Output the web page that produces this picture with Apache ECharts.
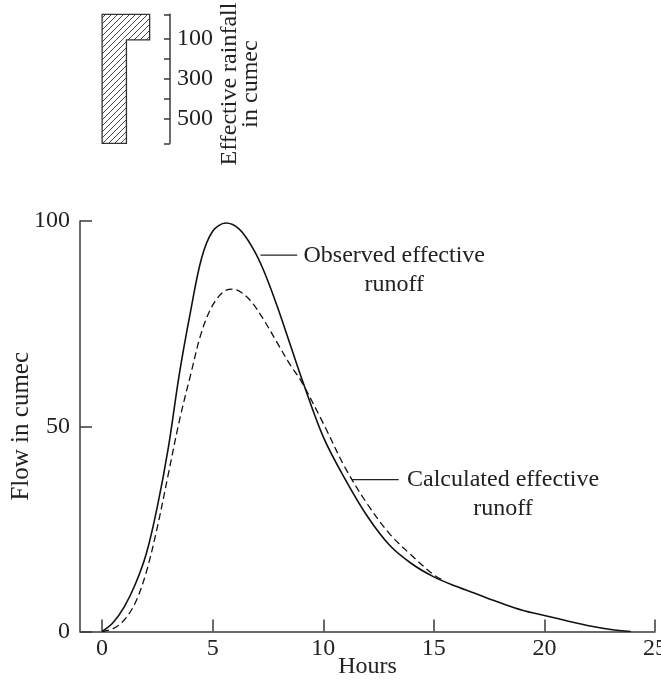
<!DOCTYPE html>
<html>
<head>
<meta charset="utf-8">
<script src="https://cdn.jsdelivr.net/npm/echarts@6/dist/echarts.min.js"></script>
<style>
  html, body { margin: 0; background: #fff; }
  #chart { width: 661px; height: 680px; }
</style>
</head>
<body>
<div id="chart"></div>
<script>
// hours / flow in cumec
const hourTicks = [0, 5, 10, 15, 20, 25];
const flowTicks = [0, 50, 100];

const observedRunoff = [
  [0, 0], [0.5, 2.2], [1, 6], [1.5, 11.5], [2, 19], [2.5, 30.5], [3, 45], [3.5, 63],
  [4, 78], [4.5, 91], [5, 97.5], [5.6, 99.5], [6.2, 98], [6.8, 93.5], [7.3, 88],
  [7.9, 79.5], [8.5, 70], [9, 62], [10, 47.4], [11, 37], [12, 28], [13, 21],
  [14, 16.5], [15, 13.3], [16, 11], [17, 9], [18, 7], [19, 5.2], [20, 3.9],
  [21, 2.6], [22, 1.4], [23, 0.5], [23.9, 0]
];

const calculatedRunoff = [
  [0, 0], [0.5, 0.7], [1, 2.8], [1.5, 7], [2, 14.5], [2.5, 25.5], [3, 38.5], [3.5, 51.5],
  [4, 62.5], [4.5, 73], [5, 79.5], [5.5, 82.8], [5.9, 83.4], [6.3, 82.6], [6.8, 80],
  [7.3, 76], [7.9, 70.5], [8.5, 65], [9, 61], [10, 50.7], [11, 39.8], [12, 31],
  [13, 23.8], [14, 18.5], [15, 13.8], [15.5, 12.3]
];

// effective rainfall block (hyetograph), hanging from the top of its axis
const rainHours = [0, 1.1, 2.15];   // block edges in hours
const rainDepth = [620, 107];       // lower edge of each block
const rainTop = -20;
const rainTicks = [-20, 100, 200, 300, 400, 500, 620];
const rainLabels = [100, 300, 500];

const font = 'Liberation Serif';
const textColor = '#222';
const axisColor = '#3a3a3a';

// diagonal hatch for the rainfall block
const hatch = document.createElement('canvas');
hatch.width = 6;
hatch.height = 6;
const hctx = hatch.getContext('2d');
hctx.strokeStyle = '#333';
hctx.lineWidth = 0.9;
hctx.beginPath();
hctx.moveTo(0, 6); hctx.lineTo(6, 0);
hctx.moveTo(-1, 1); hctx.lineTo(1, -1);
hctx.moveTo(5, 7); hctx.lineTo(7, 5);
hctx.stroke();

const chart = echarts.init(document.getElementById('chart'));

chart.setOption({
  animation: false,
  backgroundColor: '#fff',
  grid: [
    { left: 80, right: 6, top: 221, bottom: 48.5, containLabel: false, outerBoundsMode: 'none' },
    { left: 80, right: 6, top: 14.3, height: 129, containLabel: false, outerBoundsMode: 'none' }
  ],
  xAxis: [
    {
      type: 'value', gridIndex: 0, min: -1, max: 25,
      name: 'Hours', nameLocation: 'middle', nameGap: 23, nameMoveOverlap: false,
      nameTextStyle: { fontFamily: font, fontSize: 24, color: textColor },
      axisLine: { onZero: false, lineStyle: { color: axisColor, width: 1.5 } },
      axisTick: { inside: true, length: 12, customValues: hourTicks, lineStyle: { color: axisColor, width: 1.5 } },
      axisLabel: { customValues: hourTicks, margin: 5, fontFamily: font, fontSize: 24, color: textColor },
      splitLine: { show: false }
    },
    { type: 'value', gridIndex: 1, min: -1, max: 25, show: false }
  ],
  yAxis: [
    {
      type: 'value', gridIndex: 0, min: 0, max: 100, interval: 50,
      name: 'Flow in cumec', nameLocation: 'middle', nameGap: 46, nameMoveOverlap: false,
      nameTextStyle: { fontFamily: font, fontSize: 25, color: textColor },
      axisLine: { show: true, onZero: false, lineStyle: { color: axisColor, width: 1.5 } },
      axisTick: { show: true, inside: true, length: 12, lineStyle: { color: axisColor, width: 1.5 } },
      axisLabel: { margin: 10, fontFamily: font, fontSize: 24, color: textColor },
      splitLine: { show: false }
    },
    {
      type: 'value', gridIndex: 1, inverse: true, min: rainTop, max: 620, offset: -90,
      axisLine: { show: true, onZero: false, lineStyle: { color: axisColor, width: 1.5 } },
      axisTick: { show: true, length: 6, customValues: rainTicks, lineStyle: { color: axisColor, width: 1.5 } },
      axisLabel: { inside: true, margin: 7, customValues: rainLabels, fontFamily: font, fontSize: 24, color: textColor },
      splitLine: { show: false }
    }
  ],
  series: [
    {
      name: 'Observed effective runoff', type: 'line', xAxisIndex: 0, yAxisIndex: 0,
      data: observedRunoff, smooth: 0.35, showSymbol: false,
      lineStyle: { color: '#111', width: 1.6 }
    },
    {
      name: 'Calculated effective runoff', type: 'line', xAxisIndex: 0, yAxisIndex: 0,
      data: calculatedRunoff, smooth: 0.35, showSymbol: false,
      lineStyle: { color: '#111', width: 1.3, type: [7, 4] }
    },
    {
      name: 'Effective rainfall', type: 'custom', xAxisIndex: 1, yAxisIndex: 1,
      data: [0],
      renderItem: function (params, api) {
        const pts = [
          [rainHours[0], rainTop], [rainHours[2], rainTop], [rainHours[2], rainDepth[1]],
          [rainHours[1], rainDepth[1]], [rainHours[1], rainDepth[0]], [rainHours[0], rainDepth[0]]
        ].map(p => api.coord(p));
        return {
          type: 'polygon',
          shape: { points: pts },
          style: { fill: { image: hatch, repeat: 'repeat' }, stroke: '#333', lineWidth: 1.3 }
        };
      }
    }
  ]
});

// annotations, anchored in data coordinates
const px = p => chart.convertToPixel({ gridIndex: 0 }, p);
const obsFrom = px([7.16, 91.7]), obsTo = px([8.82, 91.7]), obsText = px([13.21, 91.7]);
const calFrom = px([11.3, 37]), calTo = px([13.41, 37]), calText = px([18.13, 37]);
const lineStyle = { stroke: '#222', lineWidth: 1.3 };
const labelStyle = (text, p) => ({
  type: 'text', x: p[0], y: p[1] - 14,
  style: { text: text, align: 'center', verticalAlign: 'top', lineHeight: 29,
           font: '24px "' + font + '"', fill: textColor }
});

chart.setOption({
  graphic: [
    { type: 'line', shape: { x1: obsFrom[0], y1: obsFrom[1], x2: obsTo[0], y2: obsTo[1] }, style: lineStyle },
    labelStyle('Observed effective\nrunoff', obsText),
    { type: 'line', shape: { x1: calFrom[0], y1: calFrom[1], x2: calTo[0], y2: calTo[1] }, style: lineStyle },
    labelStyle('Calculated effective\nrunoff', calText),
    {
      type: 'text', x: 240, y: 84, rotation: Math.PI / 2,
      style: { text: 'Effective rainfall\nin cumec', align: 'center', verticalAlign: 'middle',
               lineHeight: 21, font: '24px "' + font + '"', fill: textColor }
    }
  ]
});
</script>
</body>
</html>
